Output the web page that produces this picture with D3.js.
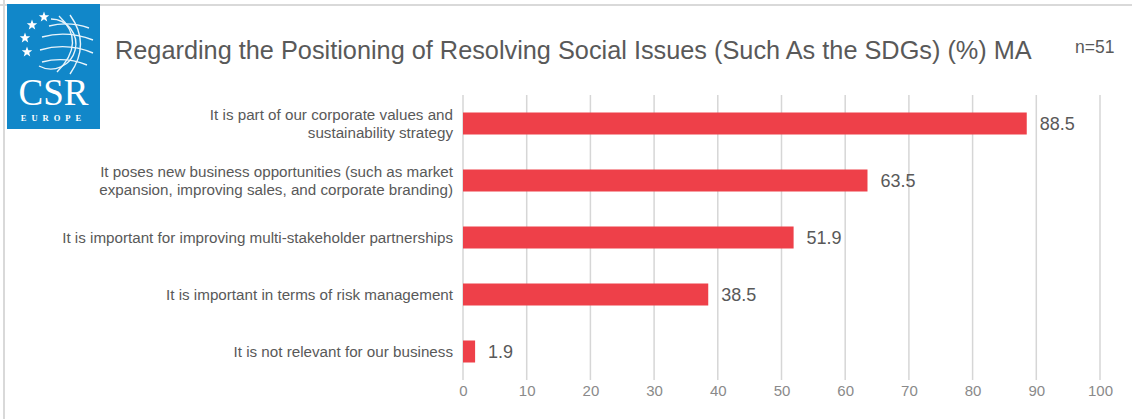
<!DOCTYPE html>
<html>
<head>
<meta charset="utf-8">
<script src="https://cdn.jsdelivr.net/npm/d3@7"></script>
<style>
  html, body { margin: 0; padding: 0; background: #fff; }
  svg { display: block; font-family: "Liberation Sans", Arial, sans-serif; }
</style>
</head>
<body>
<div id="chart"></div>
<script>
const TITLE = 'Regarding the Positioning of Resolving Social Issues (Such As the SDGs) (%) MA';
const SAMPLE = 'n=51';

const categories = [
  ['It is part of our corporate values and', 'sustainability strategy'],
  ['It poses new business opportunities (such as market', 'expansion, improving sales, and corporate branding)'],
  ['It is important for improving multi-stakeholder partnerships'],
  ['It is important in terms of risk management'],
  ['It is not relevant for our business']
];
const values = [88.5, 63.5, 51.9, 38.5, 1.9];
const xTicks = [0, 10, 20, 30, 40, 50, 60, 70, 80, 90, 100];

const CONFIG = {
  width: 1132,
  height: 419,
  plot: { left: 463, right: 1100, top: 95, bottom: 380 },
  barColor: '#ee4049',
  gridColor: '#d6d6d6',
  textColor: '#595959',
  tickColor: '#8a8a8a',
  frameColor: '#d9d9d9',
  logoBlue: '#1187c9'
};

const svg = d3.select('#chart').append('svg')
  .attr('width', CONFIG.width)
  .attr('height', CONFIG.height);

// frame (top + left edges only)
svg.append('line')
  .attr('x1', 0).attr('x2', CONFIG.width).attr('y1', 5).attr('y2', 5)
  .attr('stroke', CONFIG.frameColor).attr('stroke-width', 2);
svg.append('line')
  .attr('x1', 4).attr('x2', 4).attr('y1', 0).attr('y2', CONFIG.height)
  .attr('stroke', CONFIG.frameColor).attr('stroke-width', 2);

// logo
const logo = svg.append('g').attr('class', 'logo').attr('transform', 'translate(7,4)');
logo.append('rect').attr('width', 93).attr('height', 125).attr('fill', CONFIG.logoBlue);

const star = (cx, cy, r) => {
  const pts = d3.range(10).map(i => {
    const a = -Math.PI / 2 + i * Math.PI / 5;
    const rr = i % 2 ? r * 0.42 : r;
    return [cx + rr * Math.cos(a), cy + rr * Math.sin(a)];
  });
  return 'M' + pts.join('L') + 'Z';
};
[[37, 13], [25, 21], [18, 34], [20, 48]].forEach(([x, y]) => {
  logo.append('path').attr('d', star(x, y, 5.5)).attr('fill', '#fff');
});

const globe = logo.append('g').attr('fill', 'none').attr('stroke', '#e8f4fb').attr('stroke-width', 1.4);
globe.append('path').attr('d', 'M44,15 A25,25 0 1 1 32,62');
globe.append('path').attr('d', 'M52,12 Q80,38 50,68');
globe.append('path').attr('d', 'M63,11 Q84,40 63,70');
globe.append('path').attr('d', 'M42,22 Q62,17 82,24');
globe.append('path').attr('d', 'M35,33 Q60,26 86,36');
globe.append('path').attr('d', 'M33,46 Q60,38 86,49');
globe.append('path').attr('d', 'M35,58 Q58,52 80,61');

logo.append('text')
  .attr('x', 46.5).attr('y', 101)
  .attr('text-anchor', 'middle')
  .attr('font-family', '"Liberation Serif", "DejaVu Serif", serif')
  .attr('font-size', 37)
  .attr('fill', '#fff')
  .text('CSR');
logo.append('text')
  .attr('x', 46.5).attr('y', 117)
  .attr('text-anchor', 'middle')
  .attr('font-family', '"Liberation Serif", "DejaVu Serif", serif')
  .attr('font-size', 8.5)
  .attr('font-weight', 'bold')
  .attr('letter-spacing', 5)
  .attr('fill', '#fff')
  .text('EUROPE');

// title
svg.append('text')
  .attr('x', 115).attr('y', 59)
  .attr('font-size', 25.3)
  .attr('fill', CONFIG.textColor)
  .text(TITLE);
svg.append('text')
  .attr('x', 1075).attr('y', 52.5)
  .attr('font-size', 17.5)
  .attr('fill', CONFIG.textColor)
  .text(SAMPLE);

// scales
const { plot } = CONFIG;
const x = d3.scaleLinear().domain([0, 100]).range([plot.left, plot.right]);
const y = d3.scaleBand()
  .domain(d3.range(categories.length))
  .range([plot.top, plot.bottom])
  .paddingInner(0.614)
  .paddingOuter(0.307);

// grid
svg.append('g').attr('class', 'grid')
  .selectAll('line')
  .data(xTicks)
  .join('line')
  .attr('x1', d => x(d)).attr('x2', d => x(d))
  .attr('y1', plot.top).attr('y2', plot.bottom)
  .attr('stroke', CONFIG.gridColor)
  .attr('stroke-width', 1.5);

// axis
const axis = svg.append('g')
  .attr('transform', `translate(0,${plot.bottom})`)
  .call(d3.axisBottom(x).tickValues(xTicks).tickSize(0).tickPadding(5));
axis.select('.domain').remove();
axis.selectAll('text')
  .attr('font-family', '"Liberation Sans", Arial, sans-serif')
  .attr('font-size', 15)
  .attr('fill', CONFIG.tickColor);

// bars
svg.append('g').attr('class', 'bars')
  .selectAll('rect')
  .data(values)
  .join('rect')
  .attr('x', x(0))
  .attr('y', (d, i) => y(i))
  .attr('width', d => x(d) - x(0))
  .attr('height', y.bandwidth())
  .attr('fill', CONFIG.barColor);

// value labels
svg.append('g').attr('class', 'values')
  .selectAll('text')
  .data(values)
  .join('text')
  .attr('x', d => x(d) + 13)
  .attr('y', (d, i) => y(i) + y.bandwidth() / 2)
  .attr('dy', '0.35em')
  .attr('font-size', 18)
  .attr('fill', CONFIG.textColor)
  .text(d => d.toFixed(1));

// category labels
const lineH = 18;
const labels = svg.append('g').attr('class', 'labels')
  .selectAll('text')
  .data(categories)
  .join('text')
  .attr('text-anchor', 'end')
  .attr('font-size', 15.2)
  .attr('fill', CONFIG.textColor);
labels.each(function (lines, i) {
  const cy = y(i) + y.bandwidth() / 2;
  d3.select(this).selectAll('tspan')
    .data(lines)
    .join('tspan')
    .attr('x', 453)
    .attr('y', (d, j) => cy + (j - (lines.length - 1) / 2) * lineH)
    .attr('dy', '0.35em')
    .text(d => d);
});
</script>
</body>
</html>
